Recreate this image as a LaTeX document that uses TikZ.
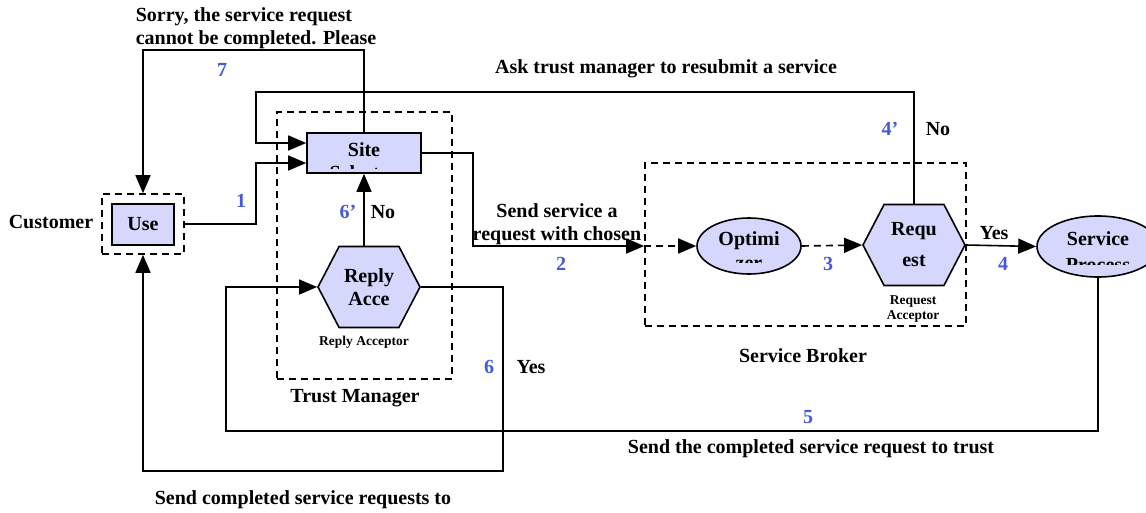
\documentclass[tikz,border=0pt]{standalone}
\usepackage{fontspec}
\setmainfont{Liberation Serif}
\usetikzlibrary{arrows.meta,positioning,shapes.geometric,shapes.symbols}
\definecolor{boxfill}{RGB}{213,216,252}
\definecolor{stepblue}{RGB}{70,88,220}

\begin{document}
\begin{tikzpicture}[x=1pt,y=-1pt,>={Triangle[length=18pt,width=15pt]},
  line width=1.6pt,
  every node/.style={font=\fontsize{20}{23}\selectfont\bfseries},
  unit/.style={draw,fill=boxfill,inner sep=0pt,align=center},
  group/.style={draw,dash pattern=on 7pt off 5pt,inner sep=0pt},
  hexa/.style={unit,signal,signal to=west and east,signal pointer angle=125,
    minimum width=102pt,minimum height=81pt},
  tiny/.style={font=\fontsize{13.5}{15}\selectfont\bfseries,align=center},
  num/.style={text=stepblue},
  cut/.style n args={3}{path picture={
    \clip (path picture bounding box.north west) rectangle
      ([yshift=-#2pt]path picture bounding box.east);
    \node[anchor=base] at ([yshift=-#1pt]path picture bounding box.center) {#3};}}]
 \useasboundingbox (0,0) rectangle (1146,512);
 \clip (0,0) rectangle (1146,512);
 % groups
 \node[group,minimum width=82pt,minimum height=60pt] (cust) at (143,224) {};
 \node[group,minimum width=175pt,minimum height=267pt] (trust) at (364.5,245.5) {};
 \node[group,minimum width=321pt,minimum height=163pt] (broker) at (805.5,244.5) {};
 \node (custlbl) at (51,222) {Customer};
 \node (trustlbl) at (355,398) {Trust Manager};
 \node (brokerlbl) at (803,356) {Service Broker};
 % components
 \node[unit,minimum width=62pt,minimum height=41pt] (use) at (143,224.5) {Use};
 \node[unit,minimum width=114pt,minimum height=40pt,text height=13pt,
   text depth=7pt,cut={26}{15}{Selector}] (site) at (364,153) {Site};
 \node[hexa] (reply) at (369,287) {Reply\\Acce};
 \node[tiny] (replylbl) at (364,342) {Reply Acceptor};
 \node[unit,ellipse,minimum width=104pt,minimum height=56pt,text height=13pt,
   text depth=15pt,cut={23}{16}{zer}] (opt) at (749,246) {Optimi};
 \node[hexa] (req) at (914,245) {Requ\\[8pt]est};
 \node[tiny] (reqlbl) at (913,309) {Request\\Acceptor};
 \node[unit,ellipse,minimum width=122pt,minimum height=61pt,text height=13pt,
   text depth=15pt,cut={25}{18}{Process}] (proc) at (1098,246.5) {Service};
 \coordinate (entry) at (broker.west |- opt.west);
 \coordinate (bend) at (256,92);
 % connectors
 \draw[->] (cust.east) -- (cust.east -| bend) |- ([yshift=-10pt]site.west);
 \draw[->] (site.east) -| (473,246) -- (entry);
 \draw[->,dash pattern=on 7pt off 5pt] (entry) -- (opt.west);
 \draw[->,dash pattern=on 7pt off 5pt] (opt.east) -- (req.west);
 \draw[->] (req.east) -- (proc.west);
 \draw[->] (req.north) |- (bend) |- ([yshift=10pt]site.west);
 \draw[->] (proc.south) |- (226,431) |- (reply.west);
 \draw[->] (site.south |- reply.north) -- (site.south);
 \draw[->] (reply.east) -| (503,471) -| (cust.south);
 \draw[->] (site.north) |- (143,50) -- (cust.north);
 % labels
 \node[align=left,anchor=west,inner sep=0pt] (sorry) at (135,28)
   {Sorry, the service request\\cannot be completed. Please};
 \node (ask) at (666,69) {Ask trust manager to resubmit a service};
 \node[align=center] (sendreq) at (557,224) {Send service a\\request with chosen};
 \node (sendtrust) at (811,449) {Send the completed service request to trust};
 \node (sendcust) at (303,500) {Send completed service requests to};
 \node (yes4) at (994,233) {Yes};
 \node (no4) at (938,129) {No};
 \node (no6) at (383,212) {No};
 \node (yes6) at (531,367) {Yes};
 \node[num] (n1) at (241,201) {1};
 \node[num] (n2) at (561,264) {2};
 \node[num] (n3) at (828,264) {3};
 \node[num] (n4) at (1003,264) {4};
 \node[num] (n4b) at (890,129) {4’};
 \node[num] (n5) at (808,417) {5};
 \node[num] (n6) at (489,367) {6};
 \node[num] (n6b) at (348,212) {6’};
 \node[num] (n7) at (222,70) {7};
\end{tikzpicture}
\end{document}
